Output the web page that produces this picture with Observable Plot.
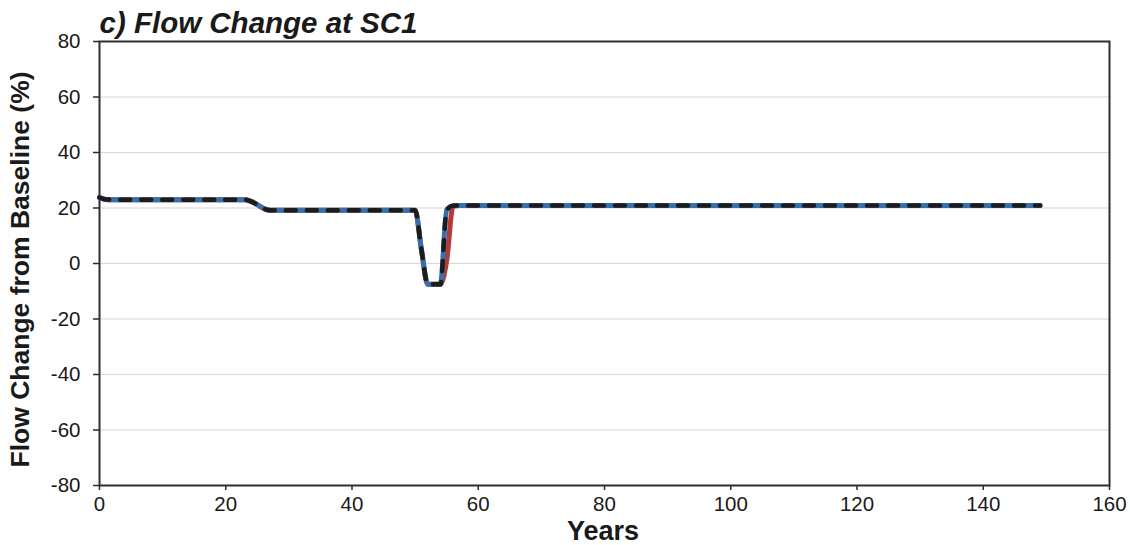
<!DOCTYPE html>
<html>
<head>
<meta charset="utf-8">
<script src="https://cdn.jsdelivr.net/npm/d3@7"></script>
<script src="https://cdn.jsdelivr.net/npm/@observablehq/plot@0.6"></script>
<style>
  html, body { margin: 0; padding: 0; background: #fff; }
</style>
</head>
<body>
<div id="chart"></div>
<script>
// Simulation years at which the flow-change values were sampled
const years = [0, 1, 2, 22, 23, 24, 25, 26, 27, 28, 50, 51, 52, 53, 54, 55, 56, 57, 149];

// Flow change from baseline (%) at SC1 for the three runs
const runRed   = [23.8, 23.1, 23.0, 23.0, 23.0, 22.4, 21.2, 19.8, 19.2, 19.2, 19.2, 5.0, -7.5, -7.5, -7.5, 1.0, 20.6, 20.9, 20.9];
const runBlue  = [23.8, 23.1, 23.0, 23.0, 23.0, 22.4, 21.2, 19.8, 19.2, 19.2, 19.2, 5.0, -7.5, -7.5, -7.5, 19.3, 20.8, 20.9, 20.9];
const runBlack = [23.8, 23.1, 23.0, 23.0, 23.0, 22.4, 21.2, 19.8, 19.2, 19.2, 19.2, 5.0, -7.5, -7.5, -7.5, 19.3, 20.8, 20.9, 20.9];

// Axis ticks and labels
const xTicks = [0, 20, 40, 60, 80, 100, 120, 140, 160];
const yTicks = [-80, -60, -40, -20, 0, 20, 40, 60, 80];
const gridValues = [-60, -40, -20, 0, 20, 40, 60];
const title = "c) Flow Change at SC1";
const xLabel = "Years";
const yLabel = "Flow Change from Baseline (%)";

const toRows = values => years.map((year, i) => ({year, value: values[i]}));

const font = "'Liberation Sans', Arial, Helvetica, sans-serif";
const ink = "#1a1a1a";

const chart = Plot.plot({
  width: 1130,
  height: 545,
  marginLeft: 99,
  marginRight: 21,
  marginTop: 41,
  marginBottom: 60,
  style: {fontFamily: font, color: "#2a2a2a", background: "#fff"},
  x: {domain: [0, 160]},
  y: {domain: [-80, 80]},
  marks: [
    Plot.gridY(gridValues, {stroke: "#d6d6d6", strokeOpacity: 1, strokeWidth: 1.2}),
    Plot.axisX({ticks: xTicks, tickSize: 5, tickPadding: 6, fontSize: 20.5, label: null, tickFormat: d => `${d}`, fill: ink, strokeWidth: 1.5}),
    Plot.axisY({ticks: yTicks, tickSize: 6, tickPadding: 13, fontSize: 20.5, label: null, tickFormat: d => `${d}`, fill: ink, strokeWidth: 1.5}),
    Plot.frame({stroke: "#2f2f2f", strokeWidth: 2}),
    Plot.lineY(toRows(runRed), {x: "year", y: "value", stroke: "#b23b37", strokeWidth: 5, curve: "monotone-x", strokeLinejoin: "round"}),
    Plot.lineY(toRows(runBlue), {x: "year", y: "value", stroke: "#3a6fae", strokeWidth: 5, curve: "monotone-x", strokeLinejoin: "round"}),
    Plot.lineY(toRows(runBlack), {x: "year", y: "value", stroke: "#1c1c1c", strokeWidth: 4.5, curve: "monotone-x", strokeDasharray: "10,11", strokeLinecap: "round", strokeLinejoin: "round"}),
    Plot.text([title], {text: d => d, frameAnchor: "top-left", textAnchor: "start", lineAnchor: "middle", dy: -18, fontSize: 29.5, fontWeight: "bold", fontStyle: "italic", fill: ink}),
    Plot.text([xLabel], {text: d => d, frameAnchor: "bottom", textAnchor: "middle", lineAnchor: "middle", dx: -1.5, dy: 46, fontSize: 27, fontWeight: "bold", fill: ink}),
    Plot.text([yLabel], {text: d => d, frameAnchor: "left", rotate: -90, textAnchor: "middle", lineAnchor: "middle", dx: -79, dy: 6, fontSize: 26.5, fontWeight: "bold", fill: ink})
  ]
});

document.getElementById("chart").appendChild(chart);
</script>
</body>
</html>
